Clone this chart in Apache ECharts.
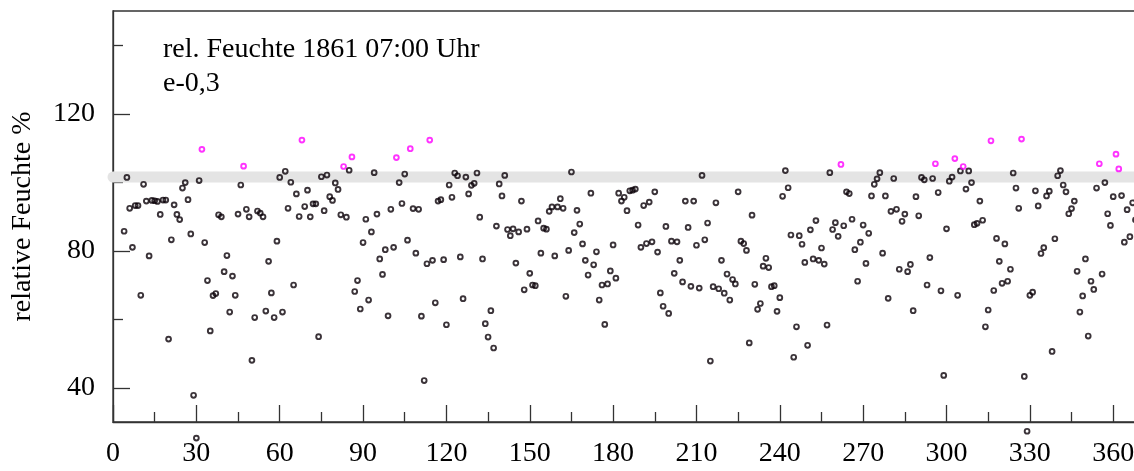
<!DOCTYPE html>
<html>
<head>
<meta charset="utf-8">
<script src="https://cdn.jsdelivr.net/npm/echarts@6/dist/echarts.min.js"></script>
<style>
html,body{margin:0;padding:0;background:#fff;}
#chart{width:1134px;height:471px;}
</style>
</head>
<body>
<div id="chart"></div>
<script>
// Titles and labels
const titleLine1 = 'rel. Feuchte 1861 07:00 Uhr';
const titleLine2 = 'e-0,3';
const yAxisTitle = 'relative Feuchte %';
const xTickLabels = [0, 30, 60, 90, 120, 150, 180, 210, 240, 270, 300, 330, 360];
const xMinorTicks = [15, 45, 75, 105, 135, 165, 195, 225, 255, 285, 315, 345];
const yTickLabels = [40, 80, 120];
const yMinorTicks = [60, 100, 140];
const saturationLevel = 101.5;   // grey reference band
const highThreshold = 103.7;     // points above are drawn magenta

// First plotted day (x position of first value)
const firstDay = 4;
// relative humidity, one value per day
const humidity = [
 85.7,101.4,92.4,81.0,93.2,93.2,67.0,99.4,94.5,78.5,94.7,94.6,94.4,90.6,94.8,94.8,54.2,83.2,93.4,90.6,
 89.1,98.3,99.9,94.9,84.9,37.8,25.3,100.5,109.6,82.4,71.3,56.6,66.9,67.5,90.5,89.9,73.9,78.6,62.1,72.6,
 67.0,90.7,99.2,104.7,92.1,89.9,48.0,60.5,91.6,91.0,89.9,62.4,76.9,67.7,60.5,82.8,
 101.4,62.1,103.2,92.4,100.0,70.0,96.6,90.0,112.3,92.9,97.7,89.9,93.7,93.7,54.9,101.6,91.7,102.1,95.8,94.7,
 99.8,97.9,90.5,104.6,89.8,103.5,107.4,68.1,71.3,63.0,82.4,89.2,65.6,85.5,102.8,90.7,77.6,73.1,80.3,61.0,
 92.1,81.0,107.2,99.9,93.8,102.4,83.1,109.8,92.3,79.3,92.1,60.9,42.1,76.2,112.3,77.2,64.8,94.5,94.9,77.4,58.4,
 99.2,95.6,102.7,101.9,78.2,66.0,101.5,96.6,99.1,99.7,102.7,89.8,77.6,58.7,54.8,62.5,51.6,87.2,99.5,96.0,
 102.0,86.2,84.4,86.4,76.4,85.5,94.5,68.6,86.3,73.4,70.0,69.8,88.7,79.3,86.6,86.3,91.5,92.8,78.5,92.8,
 95.2,92.4,66.7,80.1,103.0,85.3,91.8,87.8,82.0,77.2,72.9,96.8,75.9,79.7,65.6,70.0,58.5,70.3,74.1,81.7,72.0,
 96.8,94.5,95.6,91.7,97.5,97.7,98.0,87.5,81.0,93.2,82.1,94.2,82.6,97.2,79.6,67.7,63.8,87.1,61.7,82.8,
 73.4,82.6,77.2,70.9,94.5,86.8,69.6,94.5,81.6,69.1,102.0,83.2,88.1,47.8,69.5,94.0,68.9,77.2,67.6,73.2,
 65.6,71.6,70.3,97.2,82.8,82.1,80.1,53.1,90.4,70.2,62.9,64.6,75.5,77.8,75.1,69.5,69.8,62.3,66.3,95.9,103.4,98.4,
 84.6,48.9,57.8,84.4,81.9,76.6,52.4,86.1,77.6,88.8,77.2,80.8,76.1,58.3,102.8,86.2,88.2,84.2,105.2,87.3,
 97.2,96.7,89.2,80.3,71.1,82.5,87.5,76.3,85.1,96.0,99.4,101.0,102.8,79.3,96.0,66.1,91.5,101.1,92.1,74.6,
 88.6,90.7,73.9,76.0,62.5,95.8,90.2,101.4,100.7,70.0,78.0,101.1,105.4,97.0,68.3,43.6,86.4,100.3,101.5,106.9,67.0,
 103.3,104.6,98.0,103.3,99.9,87.6,88.0,94.5,88.9,57.8,62.7,112.1,68.4,83.6,76.9,70.5,82.0,71.1,74.6,102.7,
 98.3,92.4,112.6,43.3,27.3,67.0,67.9,97.5,93.1,79.2,80.9,96.0,97.4,50.6,83.5,101.9,103.4,99.2,97.2,90.8,
 92.3,94.5,74.0,62.1,66.8,77.6,55.1,71.1,68.7,98.3,105.4,73.2,99.9,90.8,87.4,95.8,108.2,103.9,96.1,82.5,
 92.0,84.1,94.0,89.0
];

const DARK = '#0a0008';
const MAGENTA = '#ff00ff';
const points = humidity.map((v, i) => ({
  value: [firstDay + i, v],
  itemStyle: {borderColor: v > highThreshold ? MAGENTA : DARK}
}));
const FONT = '"Liberation Serif","Times New Roman",serif';
const AX = '#333333';

const chart = echarts.init(document.getElementById('chart'), null, {renderer: 'canvas'});
const baseY = {
  type: 'value', min: 30, max: 150, gridIndex: 0,
  splitLine: {show: false},
  axisLine: {show: true, lineStyle: {color: AX, width: 1.3}}
};
chart.setOption({
  animation: false,
  backgroundColor: '#ffffff',
  grid: {left: 113, right: -7, top: 11, bottom: 49, containLabel: false, outerBoundsMode: 'none',
         show: true, borderColor: AX, borderWidth: 1.3, backgroundColor: 'transparent'},
  xAxis: [{
    type: 'value', min: 0, max: 370,
    splitLine: {show: false},
    axisLine: {show: true, onZero: false, lineStyle: {color: AX, width: 1.3}},
    axisTick: {show: true, inside: true, length: 17, customValues: xTickLabels, lineStyle: {color: AX, width: 1.3}},
    axisLabel: {show: true, customValues: xTickLabels, margin: 18, color: '#000', fontFamily: FONT, fontSize: 28, hideOverlap: false}
  }, {
    type: 'value', min: 0, max: 370, position: 'bottom',
    splitLine: {show: false},
    axisLine: {show: false, onZero: false},
    axisTick: {show: true, inside: true, length: 10, customValues: xMinorTicks, lineStyle: {color: AX, width: 1.3}},
    axisLabel: {show: false}
  }],
  yAxis: [Object.assign({}, baseY, {
    name: yAxisTitle, nameLocation: 'middle', nameGap: 76, nameRotate: 90,
    nameTextStyle: {color: '#000', fontFamily: FONT, fontSize: 28},
    axisTick: {show: true, inside: true, length: 17, customValues: yTickLabels, lineStyle: {color: AX, width: 1.3}},
    axisLabel: {show: true, customValues: yTickLabels, margin: 18, color: '#000', fontFamily: FONT, fontSize: 28}
  }), Object.assign({}, baseY, {
    position: 'left',
    axisLine: {show: false},
    axisTick: {show: true, inside: true, length: 10, customValues: yMinorTicks, lineStyle: {color: AX, width: 1.3}},
    axisLabel: {show: false}
  })],
  graphic: [
    {type: 'text', left: 163, top: 36, silent: true, style: {text: titleLine1, fill: '#000', font: '28px ' + FONT}},
    {type: 'text', left: 163, top: 70, silent: true, style: {text: titleLine2, fill: '#000', font: '28px ' + FONT}}
  ],
  series: [{
    type: 'line', xAxisIndex: 0, yAxisIndex: 0, clip: false, silent: true, z: 1,
    symbol: 'none',
    data: [[0, saturationLevel], [380, saturationLevel]],
    lineStyle: {color: '#e4e4e4', width: 11, cap: 'round'}
  }, {
    type: 'scatter', xAxisIndex: 0, yAxisIndex: 0, clip: false, z: 3,
    symbol: 'circle', symbolSize: 4.8,
    data: points,
    itemStyle: {color: 'rgba(0,0,0,0)', borderWidth: 1.9, borderColor: DARK}
  }]
});
</script>
</body>
</html>
